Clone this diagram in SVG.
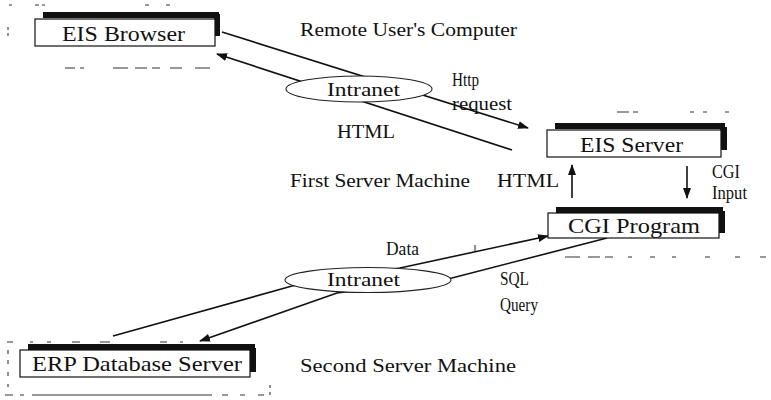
<svg xmlns="http://www.w3.org/2000/svg" width="771" height="400" viewBox="0 0 771 400">
<style>
text{font-family:"Liberation Serif","Times New Roman",serif;fill:#111;}
.lbl{font-size:18px;}
.box{font-size:22px;}
.bx{fill:#fff;stroke:#111;stroke-width:1.2;}
.sh{fill:#111;}
.ln{fill:none;stroke:#111;stroke-width:1.6;}
.dash{fill:none;stroke:#333;stroke-width:1.1;}
.ell{fill:#fff;stroke:#222;stroke-width:1.1;}
</style>
<defs>
<marker id="ah" markerWidth="11" markerHeight="8" refX="10" refY="4" orient="auto" markerUnits="userSpaceOnUse">
<path d="M0,0 L11,4 L0,8 z" fill="#111"/>
</marker>
</defs>
<rect width="771" height="400" fill="#fff"/>
<g id="decor" class="dash">
<path d="M9,5 h3 M35,5 h4 M42,5 h3 M145,5 h4 M166,5 h4 M8,27 v3 M8,33 v3"/>
<path d="M65,68 h10 M80,68 h4 M113,68 h15 M135,68 h12 M152,68 h8 M170,68 h12 M195,68 h15"/>
<path d="M617,112 h12 M633,112 h5 M690,112 h4 M703,112 h4 M725,112 h4"/>
<path d="M565,257 h15 M588,257 h12 M605,257 h8 M628,257 h4 M650,257 h5 M672,257 h4 M705,257 h5 M735,257 h5 M760,257 h6 M475,245 v6"/>
<path d="M7,342 h6 M30,342 h3 M47,342 h4 M72,342 h8 M100,342 h10 M160,342 h7 M180,342 h3"/>
<path d="M8,350 v4 M8,360 v4 M8,372 v4 M8,384 v3"/>
<path d="M5,395 h8 M20,395 h4 M32,395 h180 M222,395 h6 M240,395 h5 M258,395 h6 M270,385 v3 M270,392 v3"/>
</g>
<g id="connectors">
<line class="ln" x1="222" y1="32" x2="528" y2="128" marker-end="url(#ah)"/>
<line class="ln" x1="512" y1="150" x2="217" y2="54" marker-end="url(#ah)"/>
<line class="ln" x1="572" y1="198" x2="572" y2="165" marker-end="url(#ah)"/>
<line class="ln" x1="687" y1="166" x2="687" y2="198" marker-end="url(#ah)"/>
<path class="ln" d="M113,336 L292,286 L400,268 L548,236" marker-end="url(#ah)"/>
<path class="ln" d="M607,238 L452,278 L337,293 L200,341" marker-end="url(#ah)"/>
</g>
<g id="eis-browser">
<rect class="sh" x="43" y="12" width="176" height="6"/>
<rect class="sh" x="214" y="14" width="6" height="22"/>
<rect class="bx" x="35" y="19" width="180" height="27"/>
<text class="box" x="62" y="41" textLength="123" lengthAdjust="spacingAndGlyphs">EIS Browser</text>
</g>
<g id="intranet-1">
<ellipse class="ell" cx="359" cy="89" rx="73" ry="13"/>
<text class="lbl" x="327" y="96" textLength="73" lengthAdjust="spacingAndGlyphs">Intranet</text>
</g>
<g id="eis-server">
<rect class="sh" x="555" y="123" width="170" height="6"/>
<rect class="sh" x="720" y="127" width="7" height="23"/>
<rect class="bx" x="547" y="130" width="174" height="27"/>
<text class="box" x="580" y="152" textLength="103" lengthAdjust="spacingAndGlyphs">EIS Server</text>
</g>
<g id="cgi-program">
<rect class="sh" x="556" y="207" width="167" height="6"/>
<rect class="sh" x="718" y="211" width="7" height="22"/>
<rect class="bx" x="548" y="213" width="171" height="25"/>
<text class="box" x="568" y="233" textLength="132" lengthAdjust="spacingAndGlyphs">CGI Program</text>
</g>
<g id="intranet-2">
<ellipse class="ell" cx="368" cy="280" rx="83" ry="12.5"/>
<text class="lbl" x="327" y="286" textLength="73" lengthAdjust="spacingAndGlyphs">Intranet</text>
</g>
<g id="erp-database-server">
<rect class="sh" x="28" y="344" width="227" height="6"/>
<rect class="sh" x="249" y="348" width="7" height="24"/>
<rect class="bx" x="20" y="350" width="230" height="27"/>
<text class="box" x="32" y="371" textLength="210" lengthAdjust="spacingAndGlyphs">ERP Database Server</text>
</g>
<g id="labels" class="lbl">
<text x="300" y="36" textLength="217" lengthAdjust="spacingAndGlyphs">Remote User's Computer</text>
<text x="452" y="86" textLength="27" lengthAdjust="spacingAndGlyphs">Http</text>
<text x="452" y="110" textLength="60" lengthAdjust="spacingAndGlyphs">request</text>
<text x="337" y="138" textLength="58" lengthAdjust="spacingAndGlyphs">HTML</text>
<text x="290" y="187" textLength="180" lengthAdjust="spacingAndGlyphs">First Server Machine</text>
<text x="497" y="187" textLength="62" lengthAdjust="spacingAndGlyphs">HTML</text>
<text x="712" y="178" textLength="28" lengthAdjust="spacingAndGlyphs">CGI</text>
<text x="712" y="199" textLength="35" lengthAdjust="spacingAndGlyphs">Input</text>
<text x="386" y="255" textLength="33" lengthAdjust="spacingAndGlyphs">Data</text>
<text x="500" y="285" textLength="29" lengthAdjust="spacingAndGlyphs">SQL</text>
<text x="500" y="311" textLength="38" lengthAdjust="spacingAndGlyphs">Query</text>
<text x="300" y="372" textLength="216" lengthAdjust="spacingAndGlyphs">Second Server Machine</text>
</g>
</svg>
